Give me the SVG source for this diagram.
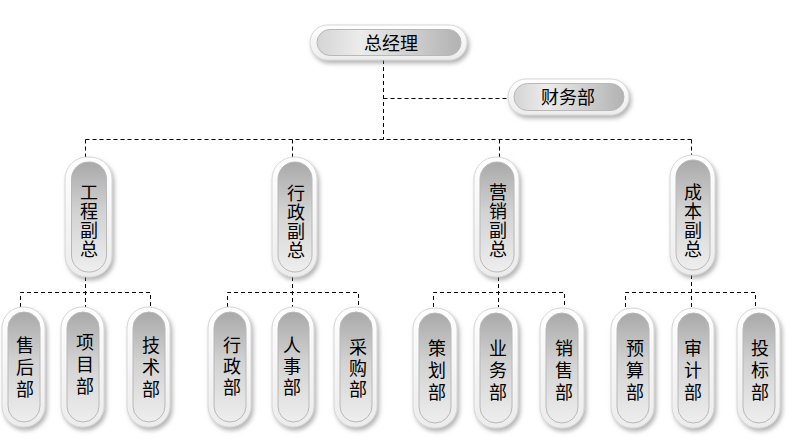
<svg xmlns="http://www.w3.org/2000/svg" width="792" height="441" viewBox="0 0 792 441">
<defs>
<filter id="sh" x="-30%" y="-30%" width="160%" height="160%">
<feDropShadow dx="2" dy="3" stdDeviation="2" flood-color="#777" flood-opacity="0.55"/>
</filter>
<linearGradient id="gv" x1="0" y1="0" x2="0" y2="1">
<stop offset="0" stop-color="#a9a9a9"/>
<stop offset="0.45" stop-color="#d2d2d2"/>
<stop offset="1" stop-color="#eeeeee"/>
</linearGradient>
<linearGradient id="gh" x1="0" y1="0" x2="1" y2="0">
<stop offset="0" stop-color="#d4d4d4"/>
<stop offset="0.3" stop-color="#ececec"/>
<stop offset="1" stop-color="#b2b2b2"/>
</linearGradient>
<linearGradient id="go" x1="0" y1="0" x2="0" y2="1">
<stop offset="0" stop-color="#ffffff"/>
<stop offset="1" stop-color="#ececec"/>
</linearGradient>
</defs>
<style>
.o{fill:url(#go);stroke:#d6d6d6;stroke-width:1;filter:url(#sh)}
.iv{fill:url(#gv);stroke:#b8b8b8;stroke-width:1}
.ih{fill:url(#gh);stroke:#b8b8b8;stroke-width:1}
.t{font-family:"Noto Sans CJK SC","Noto Sans CJK TC",sans-serif;font-size:18px;fill:#000;text-anchor:middle}
.c{fill:none;stroke:#000;stroke-width:1;stroke-dasharray:4 3}
</style>
<g id="connectors">
<path class="c" d="M383.5 60V139.5M383.5 98.5H508M85.5 139.5H691.5M85.5 139.5V157M292.5 139.5V157M499.5 139.5V157M691.5 139.5V155"/>
<path class="c" d="M85.5 277V307M20.5 307V292.5H150.5V307"/>
<path class="c" d="M292.5 277V307M227.5 307V292.5H358.5V307"/>
<path class="c" d="M498.5 277V307M433.5 307V292.5H564.5V307"/>
<path class="c" d="M691.5 275V307M625.5 307V292.5H755.5V307"/>
</g>
<g id="n-zjl">
<rect class="o" x="310" y="25" width="157" height="35" rx="17.5"/>
<rect class="ih" x="317" y="29.5" width="144" height="26" rx="13"/>
<text class="t" x="391" y="50">总经理</text>
</g>
<g id="n-cwb">
<rect class="o" x="508" y="79" width="121" height="36" rx="18"/>
<rect class="ih" x="514" y="83.5" width="110" height="27" rx="13.5"/>
<text class="t" x="568" y="104">财务部</text>
</g>
<g id="n-gcfz">
<rect class="o" x="65" y="157" width="47" height="120" rx="22"/>
<rect class="iv" x="71.5" y="162" width="35" height="110" rx="17"/>
<text class="t"><tspan x="89" y="199">工</tspan><tspan x="89" y="218">程</tspan><tspan x="89" y="237">副</tspan><tspan x="89" y="256">总</tspan></text>
</g>
<g id="n-xzfz">
<rect class="o" x="272" y="157" width="45" height="120" rx="22"/>
<rect class="iv" x="278" y="162" width="34" height="110" rx="17"/>
<text class="t"><tspan x="296" y="200">行</tspan><tspan x="296" y="219">政</tspan><tspan x="296" y="238">副</tspan><tspan x="296" y="257">总</tspan></text>
</g>
<g id="n-yxfz">
<rect class="o" x="474" y="157" width="45" height="120" rx="22"/>
<rect class="iv" x="480" y="162" width="34" height="110" rx="17"/>
<text class="t"><tspan x="498" y="199">营</tspan><tspan x="498" y="218">销</tspan><tspan x="498" y="237">副</tspan><tspan x="498" y="256">总</tspan></text>
</g>
<g id="n-cbfz">
<rect class="o" x="670" y="155" width="45" height="120" rx="22"/>
<rect class="iv" x="676" y="160" width="34" height="110" rx="17"/>
<text class="t"><tspan x="693" y="199">成</tspan><tspan x="693" y="218">本</tspan><tspan x="693" y="237">副</tspan><tspan x="693" y="256">总</tspan></text>
</g>
<g id="n-shb">
<rect class="o" x="2" y="307" width="43" height="120" rx="21"/>
<rect class="iv" x="8" y="312" width="32" height="110" rx="16"/>
<text class="t"><tspan x="25" y="352">售</tspan><tspan x="25" y="374">后</tspan><tspan x="25" y="396">部</tspan></text>
</g>
<g id="n-xmb">
<rect class="o" x="61" y="307" width="43" height="120" rx="21"/>
<rect class="iv" x="67" y="312" width="32" height="110" rx="16"/>
<text class="t"><tspan x="85" y="349">项</tspan><tspan x="85" y="371">目</tspan><tspan x="85" y="393">部</tspan></text>
</g>
<g id="n-jsb">
<rect class="o" x="127" y="307" width="43" height="120" rx="21"/>
<rect class="iv" x="133" y="312" width="32" height="110" rx="16"/>
<text class="t"><tspan x="151" y="352">技</tspan><tspan x="151" y="374">术</tspan><tspan x="151" y="396">部</tspan></text>
</g>
<g id="n-xzb">
<rect class="o" x="208" y="307" width="43" height="120" rx="21"/>
<rect class="iv" x="214" y="312" width="32" height="110" rx="16"/>
<text class="t"><tspan x="232" y="352">行</tspan><tspan x="232" y="373">政</tspan><tspan x="232" y="394">部</tspan></text>
</g>
<g id="n-rsb">
<rect class="o" x="272" y="307" width="42" height="120" rx="21"/>
<rect class="iv" x="278" y="312" width="31" height="110" rx="15.5"/>
<text class="t"><tspan x="292" y="352">人</tspan><tspan x="292" y="373">事</tspan><tspan x="292" y="394">部</tspan></text>
</g>
<g id="n-cgb">
<rect class="o" x="334" y="307" width="43" height="120" rx="21"/>
<rect class="iv" x="340" y="312" width="32" height="110" rx="16"/>
<text class="t"><tspan x="358" y="354">采</tspan><tspan x="358" y="375">购</tspan><tspan x="358" y="396">部</tspan></text>
</g>
<g id="n-chb">
<rect class="o" x="413" y="308" width="44" height="120" rx="21"/>
<rect class="iv" x="419" y="313" width="32" height="110" rx="16"/>
<text class="t"><tspan x="437" y="355">策</tspan><tspan x="437" y="377">划</tspan><tspan x="437" y="399">部</tspan></text>
</g>
<g id="n-ywb">
<rect class="o" x="474" y="308" width="44" height="120" rx="21"/>
<rect class="iv" x="480" y="313" width="32" height="110" rx="16"/>
<text class="t"><tspan x="498" y="355">业</tspan><tspan x="498" y="377">务</tspan><tspan x="498" y="399">部</tspan></text>
</g>
<g id="n-xsb">
<rect class="o" x="540" y="308" width="44" height="120" rx="21"/>
<rect class="iv" x="546" y="313" width="32" height="110" rx="16"/>
<text class="t"><tspan x="564" y="355">销</tspan><tspan x="564" y="377">售</tspan><tspan x="564" y="399">部</tspan></text>
</g>
<g id="n-ysb">
<rect class="o" x="611" y="308" width="43" height="120" rx="21"/>
<rect class="iv" x="617" y="313" width="32" height="110" rx="16"/>
<text class="t"><tspan x="635" y="355">预</tspan><tspan x="635" y="377">算</tspan><tspan x="635" y="399">部</tspan></text>
</g>
<g id="n-sjb">
<rect class="o" x="672" y="308" width="42" height="120" rx="21"/>
<rect class="iv" x="678" y="313" width="31" height="110" rx="15.5"/>
<text class="t"><tspan x="693" y="355">审</tspan><tspan x="693" y="377">计</tspan><tspan x="693" y="399">部</tspan></text>
</g>
<g id="n-tbb">
<rect class="o" x="737" y="308" width="43" height="120" rx="21"/>
<rect class="iv" x="743" y="313" width="32" height="110" rx="16"/>
<text class="t"><tspan x="760" y="355">投</tspan><tspan x="760" y="377">标</tspan><tspan x="760" y="399">部</tspan></text>
</g>
</svg>
